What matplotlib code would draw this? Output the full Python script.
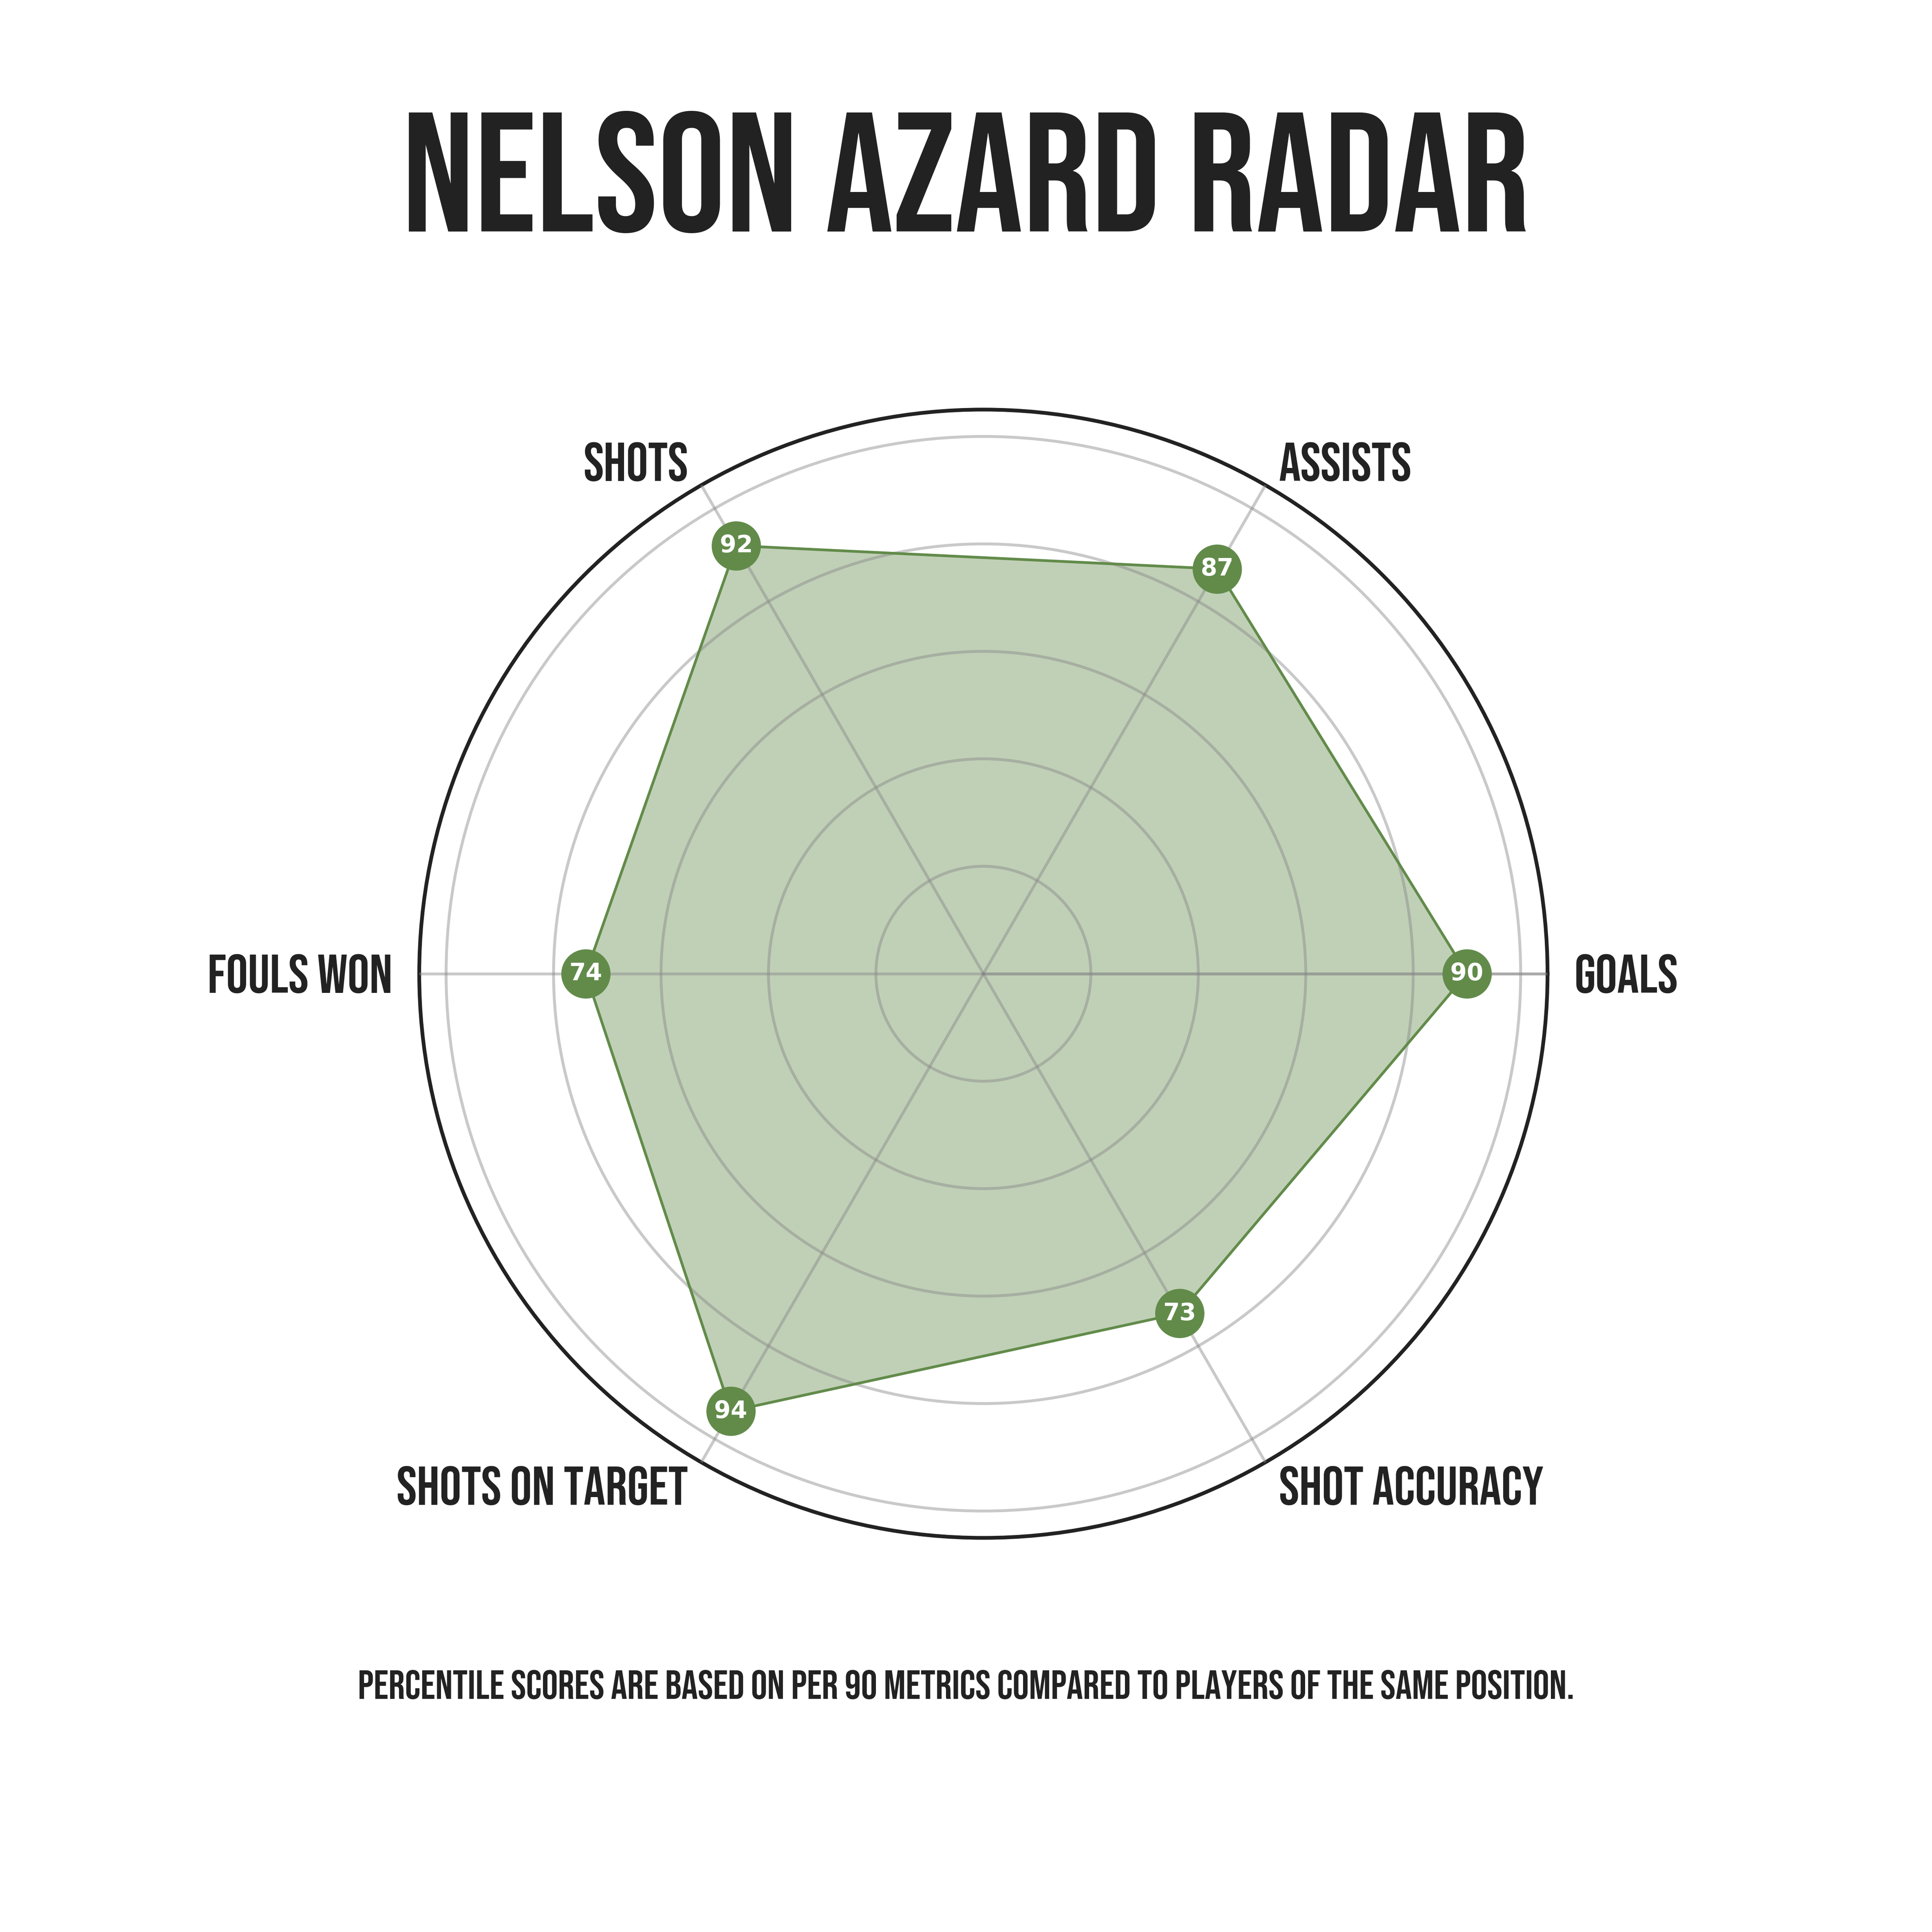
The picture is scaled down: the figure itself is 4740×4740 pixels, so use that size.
import numpy as np
import matplotlib.pyplot as plt

categories = ["GOALS", "ASSISTS", "SHOTS", "FOULS WON", "SHOTS ON TARGET", "SHOT ACCURACY"]
values = [90, 87, 92, 74, 94, 73]
grid_levels = [20, 40, 60, 80, 100]

green = "#628b4a"
dark = "#222222"
cond = ["Bebas Neue", "Oswald", "DejaVu Sans"]

angles = np.linspace(0, 2 * np.pi, len(categories), endpoint=False)
closed_a = np.append(angles, angles[0])
closed_v = np.append(values, values[0])

fig = plt.figure(figsize=(15.8, 15.8), dpi=300)
ax = fig.add_axes([0.217, 0.204, 0.584, 0.584], projection="polar")

ax.set_ylim(0, 105)
ax.set_yticks(grid_levels)
ax.set_yticklabels([])
ax.set_xticks(angles)
ax.set_xticklabels([])
ax.grid(True, color="#888888", linewidth=1.7, alpha=0.45)
ax.spines["polar"].set_color(dark)
ax.spines["polar"].set_linewidth(2.2)
ax.set_axisbelow(False)

ax.fill(closed_a, closed_v, color=green, alpha=0.4, zorder=1, linewidth=0)
# first spoke comes out a bit darker in the original
ax.plot([0, 0], [0, 105], color="#888888", alpha=0.45, linewidth=1.7, zorder=2)
ax.plot(closed_a, closed_v, color=green, linewidth=1.6, zorder=3)
ax.plot(angles, values, "o", color=green, markersize=28, zorder=4)
for a, v in zip(angles, values):
    ax.text(a, v, str(v), color="white", fontsize=14, fontweight="bold",
            ha="center", va="center", zorder=5)

for a, lab in zip(angles, categories):
    c = np.cos(a)
    if abs(c) < 1e-6:
        ha = "center"
    elif c > 0:
        ha = "left"
    else:
        ha = "right"
    ax.text(a, 110, lab, ha=ha, va="center", fontsize=32,
            color=dark, family=cond)

fig.text(0.5, 0.911, "NELSON AZARD RADAR", ha="center", va="center",
         fontsize=100, color=dark, family=cond)
fig.text(0.5, 0.128, "PERCENTILE SCORES ARE BASED ON PER 90 METRICS COMPARED TO PLAYERS OF THE SAME POSITION.",
         ha="center", va="center", fontsize=24, color=dark, family=cond)

fig.savefig("out.png", dpi=300, facecolor="white")
